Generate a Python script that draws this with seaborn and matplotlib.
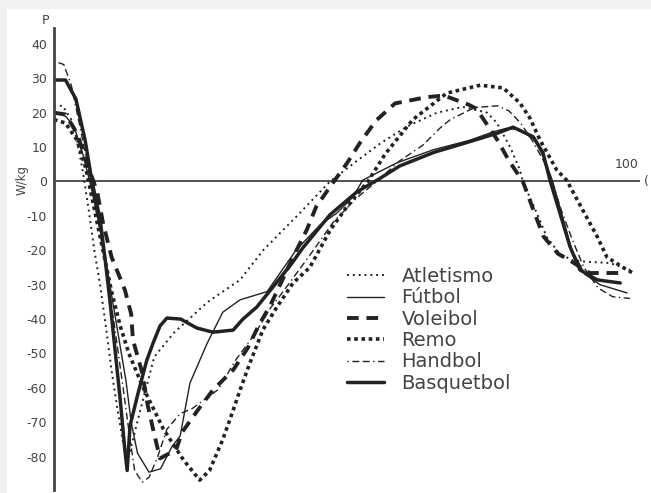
import matplotlib
matplotlib.use("Agg")
import matplotlib.pyplot as plt
import seaborn as sns
import numpy as np
import pandas as pd
from matplotlib.patches import Rectangle

sns.set_theme(style="white")
plt.rcParams['font.family'] = ['DejaVu Sans']
plt.rcParams['axes.unicode_minus'] = False

# ---- data (x: % of cycle, y: W/kg) ----
atletismo_x = [0, 1.5, 3, 4, 5, 6, 7, 8, 9, 10, 11, 12, 12.8, 14.6, 17.4, 20.8, 26.7, 32.3, 36.3, 42.2, 47.9,
               52.6, 56.6, 61.3, 66.5, 71, 75.2, 76.9, 79.2, 80.9, 81.4, 83.9, 85.6, 87.8, 90.1, 93.1, 96.5, 100]
atletismo_y = [22, 22, 18, 12, 3, -8, -20, -30, -42, -55, -66, -76, -81, -69, -51, -44, -35, -28.6, -20, -10, 0,
               6, 11, 16, 20, 21.7, 20, 17, 10, 3.3, 0, -9.5, -16.3, -21, -23, -23.4, -23.7, -25.7]

futbol_x = [0, 2, 3.5, 5, 6.5, 8, 9.5, 11, 12.5, 13.4, 14.5, 16.5, 18.5, 20.5, 21.9, 23.6, 26.6, 29.3, 32.3, 37,
            42, 46.2, 49.1, 51.9, 53.6, 59.5, 65.8, 72.2, 76.2, 78.6, 80.9, 83.5, 85.2, 86.5, 88.2, 89.9, 92.2, 94.8, 99.5]
futbol_y = [20, 19, 16, 8, -2, -14, -28, -43, -58, -70, -79, -84.5, -83.5, -77, -74, -58.6, -47, -38, -34.4, -32,
            -20, -12.6, -9.2, -4.5, 0.4, 5.4, 9.2, 12, 14.4, 15.5, 15, 12, 6.3, 0.4, -9.7, -20, -27, -30, -32.4]

voleibol_x = [0, 2, 4, 6, 7.5, 8.5, 10, 12.3, 13.4, 13.7, 15.3, 16.2, 17.2, 18.4, 21.2, 22.2, 24.9, 27.6, 31.1,
              33.6, 35.5, 37.7, 41.5, 43.9, 45.5, 47.9, 50.9, 53.1, 55.9, 59.2, 64.6, 67.7, 71.9, 73.3, 75, 77, 79,
              81.4, 83.5, 85, 87.5, 89.6, 93, 99]
voleibol_y = [20, 19.5, 14, 4, -3, -12, -22, -31.5, -38.5, -46, -55.5, -64.5, -72, -80.5, -78, -73, -66.6, -60.6,
              -54.8, -48.5, -42, -35.5, -22, -14, -7.4, -1.6, 5.4, 11.2, 17.7, 22.7, 24.5, 25, 22.4, 21.2, 17, 12, 6,
              0, -9.5, -16, -21, -23, -26.6, -26.6]

remo_x = [0, 2, 4, 5.5, 7, 8.5, 10, 11.5, 13, 15.5, 19, 22.5, 25.3, 27, 29.3, 31, 32.3, 34, 36.3, 38.7, 41.5,
          44.4, 48, 51, 54.5, 57.5, 62.3, 68.2, 74, 78, 80.9, 82.6, 84.4, 87.3, 89, 91.8, 94.3, 96, 98.8, 100.5]
remo_y = [18, 17, 12, 4, -8, -20, -32, -42, -50, -60, -72, -81, -86.8, -84, -75, -67, -60.6, -52.8, -43, -36.5,
          -29.5, -25, -14, -7, 0, 8, 18, 25.7, 28, 27.2, 22.8, 18.5, 12, 3.3, 0.4, -8.3, -16, -22, -25, -26.6]

handbol_x = [0, 1.7, 3, 4.5, 6, 7.5, 9, 10.5, 12, 13.2, 14, 15.3, 16.5, 18, 19.6, 21.9, 24, 28.5, 31.5, 34.8,
             37.5, 40, 44.6, 48.4, 52.4, 56, 60, 64, 67, 68.8, 73, 77, 79, 81, 83, 85, 86.5, 88, 90, 92, 94.5, 97, 100]
handbol_y = [35, 34, 28, 16, 3, -10, -25, -42, -60, -75, -84, -87.4, -86, -80, -72, -67.5, -66, -60.5, -52,
             -44.5, -37, -31.5, -21, -12, -5, 0, 6, 10.5, 15.5, 18, 21.5, 22, 20.5, 17, 12, 6, 0, -8, -17, -25,
             -31, -33.5, -34]

basquetbol_x = [0, 2, 3.8, 5.4, 6.6, 8, 8.9, 9.7, 10.6, 11.5, 12.3, 12.7, 13.2, 14.6, 16.1, 17.2, 18.4, 19.6,
                22, 24.8, 27.6, 31.1, 32.8, 35.2, 38, 41.2, 43.2, 47.9, 52.6, 56.4, 60, 66, 72, 76.9, 79.7, 83.2,
                84.9, 86.1, 87.8, 89.6, 91.3, 94.3, 98.3]
basquetbol_y = [29.5, 29.5, 24, 12, 0, -11, -23, -34.5, -49, -63.5, -78, -84, -71, -61.5, -52, -47, -42, -39.7,
                -40, -42.6, -43.8, -43.2, -40, -36.5, -30.7, -24, -19.3, -9.7, -3, 0.7, 4.5, 8.5, 11.5, 14, 15.8,
                13, 8.3, 0.4, -9, -19, -25.7, -28.6, -29.5]

series_names = ["Atletismo", "Fútbol", "Voleibol", "Remo", "Handbol", "Basquetbol"]
y_ticks = [40, 30, 20, 10, 0, -10, -20, -30, -40, -50, -60, -70, -80]

series = [
    (atletismo_x, atletismo_y, dict(lw=1.4, ls=(0, (1, 2)))),
    (futbol_x, futbol_y, dict(lw=1.0, ls='-')),
    (voleibol_x, voleibol_y, dict(lw=2.8, ls=(0, (3, 2)))),
    (remo_x, remo_y, dict(lw=2.6, ls=(0, (1, 1)))),
    (handbol_x, handbol_y, dict(lw=1.0, ls=(0, (1, 2.5, 5, 2.5, 5, 2.5)))),
    (basquetbol_x, basquetbol_y, dict(lw=2.5, ls='-')),
]

W, H = 651, 493
fig = plt.figure(figsize=(W / 100, H / 100), dpi=100)
fig.patch.set_facecolor('#f1f1f1')
bg = Rectangle((7 / W, 0), 1, 1 - 9 / H, transform=fig.transFigure,
               facecolor='white', edgecolor='none', zorder=-10)
fig.add_artist(bg)

ax = fig.add_axes([54 / W, 3 / H, (640 - 54) / W, (490 - 28) / H])
ax.set_zorder(5)
ax.patch.set_alpha(0)

line_color = '#222222'
for (xs, ys, st), name in zip(series, series_names):
    df = pd.DataFrame({'x': xs, 'y': ys})
    sns.lineplot(data=df, x='x', y='y', ax=ax, sort=False, estimator=None,
                 color=line_color, linewidth=st['lw'], linestyle=st['ls'], label=name)

# scale: 0% at px 54, 100% at px 630; y 0 at px 181.5, 3.44 px per W/kg
ax.set_xlim(0, (640 - 54) / 5.76)
ax.set_ylim((181.5 - 490) / 3.44, (181.5 - 28) / 3.44)

for s in ['top', 'right', 'bottom']:
    ax.spines[s].set_visible(False)
ax.spines['left'].set_color('#444444')
ax.spines['left'].set_linewidth(2)
ax.axhline(0, color='#444444', lw=1.3, zorder=1)

ax.set_xticks([])
ax.set_yticks(y_ticks)
ax.set_yticklabels([str(t) for t in y_ticks])
ax.tick_params(axis='y', length=0, pad=5, labelsize=9, labelcolor='#444444')
ax.set_xlabel('')
ax.set_ylabel('')

fig.text(22 / W, 1 - 180 / H, 'W/kg', rotation=90, ha='center', va='center', fontsize=8.5, color='#444444')
fig.text(45 / W, 1 - 20 / H, 'P', ha='center', va='center', fontsize=9, color='#444444')
fig.text(627 / W, 1 - 165 / H, '100', ha='center', va='center', fontsize=9, color='#444444')
fig.text(644 / W, 1 - 181 / H, '(', ha='left', va='center', fontsize=9, color='#444444')

hl, lb = ax.get_legend_handles_labels()
leg = ax.legend(hl, lb, loc='upper left', bbox_to_anchor=(347 / W, 1 - 267 / H),
                bbox_transform=fig.transFigure, frameon=False, fontsize=14,
                handlelength=1.9, handletextpad=0.9, labelspacing=0.12,
                borderpad=0, borderaxespad=0)
for t in leg.get_texts():
    t.set_color('#444444')

fig.savefig('out.png', dpi=100, facecolor=fig.get_facecolor())
